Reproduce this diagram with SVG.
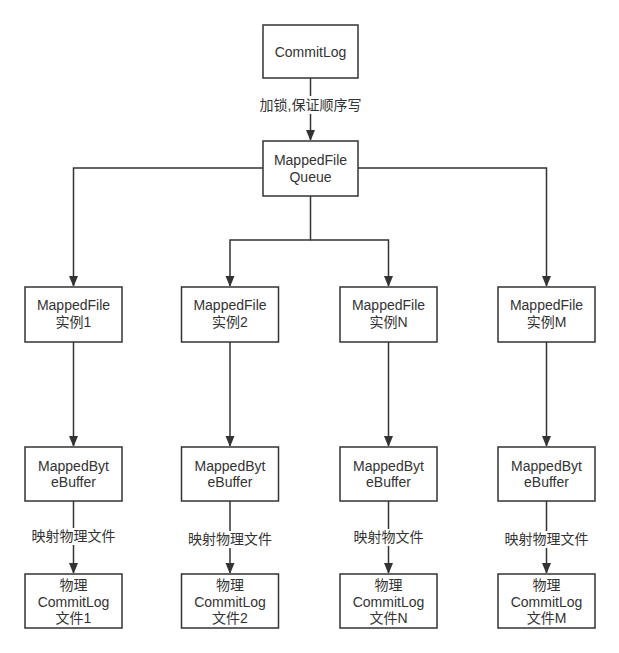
<svg xmlns="http://www.w3.org/2000/svg" width="619" height="653" viewBox="0 0 619 653">
<style>
.box{fill:#fff;stroke:#333;stroke-width:1.5}
.t{font-family:"Liberation Sans","Noto Sans CJK SC",sans-serif;font-size:14px;fill:#333;text-anchor:middle}
.e{fill:none;stroke:#333;stroke-width:1.5}
.lb{fill:#fff}
</style>
<defs>
<marker id="arr" markerWidth="10" markerHeight="12" refX="10" refY="5" orient="auto" markerUnits="userSpaceOnUse">
<path d="M0,0.5 L11,5 L0,9.5 Z" fill="#333"/>
</marker>
</defs>
<rect width="619" height="653" fill="#fff"/>
<g id="connectors">
<path class="e" d="M310.5,78 V140" marker-end="url(#arr)"/>
<path class="e" d="M263,168 H73.5 V286" marker-end="url(#arr)"/>
<path class="e" d="M358,168 H546.5 V286" marker-end="url(#arr)"/>
<path class="e" d="M310.5,196 V240 H230 V286" marker-end="url(#arr)"/>
<path class="e" d="M310.5,240 H388.5 V286" marker-end="url(#arr)"/>
<path class="e" d="M73.5,342 V446" marker-end="url(#arr)"/>
<path class="e" d="M230,342 V446" marker-end="url(#arr)"/>
<path class="e" d="M388.5,342 V446" marker-end="url(#arr)"/>
<path class="e" d="M546.5,342 V446" marker-end="url(#arr)"/>
<path class="e" d="M73.5,501 V573" marker-end="url(#arr)"/>
<path class="e" d="M230,501 V573" marker-end="url(#arr)"/>
<path class="e" d="M388.5,501 V573" marker-end="url(#arr)"/>
<path class="e" d="M546.5,501 V573" marker-end="url(#arr)"/>
<rect class="lb" x="260" y="96" width="101" height="18"/>
<text class="t" x="310.5" y="110">加锁,保证顺序写</text>
<rect class="lb" x="31" y="528" width="85" height="17"/>
<text class="t" x="73.5" y="541">映射物理文件</text>
<rect class="lb" x="187" y="531" width="85" height="17"/>
<text class="t" x="230" y="544">映射物理文件</text>
<rect class="lb" x="352" y="529" width="73" height="17"/>
<text class="t" x="388.5" y="542">映射物文件</text>
<rect class="lb" x="504" y="531" width="85" height="17"/>
<text class="t" x="546.5" y="544">映射物理文件</text>
</g>
<g id="commitlog"><rect class="box" x="263" y="25" width="95" height="53"/><text class="t" x="310.5" y="57">CommitLog</text></g>
<g id="queue"><rect class="box" x="263" y="141" width="95" height="55"/><text class="t" x="310.5" y="165">MappedFile</text><text class="t" x="310.5" y="182">Queue</text></g>
<g id="mf1"><rect class="box" x="25" y="287" width="97" height="55"/><text class="t" x="73.5" y="310">MappedFile</text><text class="t" x="73.5" y="327">实例1</text></g>
<g id="mf2"><rect class="box" x="181.5" y="287" width="97" height="55"/><text class="t" x="230" y="310">MappedFile</text><text class="t" x="230" y="327">实例2</text></g>
<g id="mfN"><rect class="box" x="340" y="287" width="97" height="55"/><text class="t" x="388.5" y="310">MappedFile</text><text class="t" x="388.5" y="327">实例N</text></g>
<g id="mfM"><rect class="box" x="498" y="287" width="97" height="55"/><text class="t" x="546.5" y="310">MappedFile</text><text class="t" x="546.5" y="327">实例M</text></g>
<g id="bb1"><rect class="box" x="25" y="447" width="97" height="54"/><text class="t" x="73.5" y="471">MappedByt</text><text class="t" x="73.5" y="487">eBuffer</text></g>
<g id="bb2"><rect class="box" x="181.5" y="447" width="97" height="54"/><text class="t" x="230" y="471">MappedByt</text><text class="t" x="230" y="487">eBuffer</text></g>
<g id="bbN"><rect class="box" x="340" y="447" width="97" height="54"/><text class="t" x="388.5" y="471">MappedByt</text><text class="t" x="388.5" y="487">eBuffer</text></g>
<g id="bbM"><rect class="box" x="498" y="447" width="97" height="54"/><text class="t" x="546.5" y="471">MappedByt</text><text class="t" x="546.5" y="487">eBuffer</text></g>
<g id="pf1"><rect class="box" x="25" y="574" width="97" height="54"/><text class="t" x="73.5" y="590">物理</text><text class="t" x="73.5" y="607">CommitLog</text><text class="t" x="73.5" y="623">文件1</text></g>
<g id="pf2"><rect class="box" x="181.5" y="574" width="97" height="54"/><text class="t" x="230" y="590">物理</text><text class="t" x="230" y="607">CommitLog</text><text class="t" x="230" y="623">文件2</text></g>
<g id="pfN"><rect class="box" x="340" y="574" width="97" height="54"/><text class="t" x="388.5" y="590">物理</text><text class="t" x="388.5" y="607">CommitLog</text><text class="t" x="388.5" y="623">文件N</text></g>
<g id="pfM"><rect class="box" x="498" y="574" width="97" height="54"/><text class="t" x="546.5" y="590">物理</text><text class="t" x="546.5" y="607">CommitLog</text><text class="t" x="546.5" y="623">文件M</text></g>
</svg>
